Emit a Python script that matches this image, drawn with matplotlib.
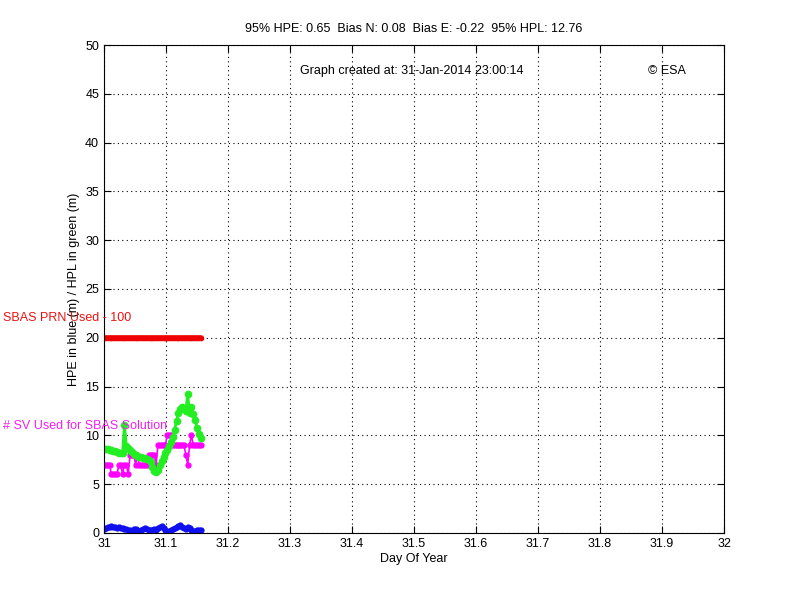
import matplotlib
matplotlib.use("Agg")
import matplotlib.pyplot as plt

days = [31.000, 31.003, 31.006, 31.009, 31.012, 31.015, 31.018, 31.021, 31.024, 31.027,
        31.030, 31.033, 31.036, 31.039, 31.042, 31.045, 31.048, 31.051, 31.054, 31.057,
        31.060, 31.063, 31.066, 31.069, 31.072, 31.075, 31.078, 31.081, 31.084, 31.087,
        31.090, 31.093, 31.096, 31.099, 31.102, 31.105, 31.108, 31.111, 31.114, 31.117,
        31.120, 31.123, 31.126, 31.129, 31.132, 31.135, 31.138, 31.141, 31.144, 31.147,
        31.150, 31.153, 31.156]

hpl = [8.6, 8.6, 8.6, 8.5, 8.5, 8.4, 8.4, 8.3, 8.2, 8.2,
       8.2, 11.1, 8.9, 8.7, 8.5, 8.3, 8.1, 8.0, 7.9, 7.8,
       7.8, 7.7, 7.7, 7.6, 7.5, 7.3, 6.8, 6.4, 6.2, 6.5,
       7.0, 7.4, 7.8, 8.2, 8.5, 8.9, 9.3, 9.8, 10.6, 11.5,
       12.3, 12.7, 12.9, 12.7, 12.5, 14.2, 12.3, 12.9, 12.2, 11.6,
       10.8, 10.1, 9.7]

nsv = [7, 7, 7, 7, 6, 6, 6, 6, 7, 7,
       6, 7, 7, 6, 8, 8, 8, 7, 8, 7,
       7, 7, 7, 7, 8, 8, 8, 8, 7, 9,
       9, 9, 9, 9, 10, 10, 10, 9, 9, 9,
       9, 9, 9, 9, 8, 7, 9, 10, 9, 9,
       9, 9, 9]

hpe = [0.4, 0.5, 0.6, 0.6, 0.7, 0.6, 0.6, 0.5, 0.6, 0.5,
       0.5, 0.4, 0.4, 0.3, 0.3, 0.2, 0.4, 0.4, 0.3, 0.2,
       0.3, 0.4, 0.5, 0.4, 0.3, 0.3, 0.3, 0.4, 0.3, 0.5,
       0.6, 0.7, 0.5, 0.3, 0.1, 0.2, 0.3, 0.4, 0.5, 0.6,
       0.7, 0.8, 0.6, 0.5, 0.4, 0.6, 0.5, 0.3, 0.2, 0.2,
       0.3, 0.3, 0.3]

sbas_prn_level = [20] * len(days)

x_ticks = [31, 31.1, 31.2, 31.3, 31.4, 31.5, 31.6, 31.7, 31.8, 31.9, 32]
x_tick_labels = ["31", "31.1", "31.2", "31.3", "31.4", "31.5", "31.6", "31.7", "31.8", "31.9", "32"]
y_ticks = [0, 5, 10, 15, 20, 25, 30, 35, 40, 45, 50]

plt.rcParams['font.family'] = ['Liberation Sans', 'DejaVu Sans']

fig = plt.figure(figsize=(8, 6), dpi=100)
ax = fig.add_axes([0.13, 0.1117, 0.775, 0.8133])

ax.plot(days, sbas_prn_level, color='#ee0000', lw=4, marker='o', ms=3, solid_capstyle='round')
ax.plot(days, nsv, color='#ff00ff', lw=1.2, marker='o', ms=3.5)
ax.plot(days, hpl, color='#22ee22', lw=2, marker='o', ms=4.5)
ax.plot(days, hpe, color='#1010ee', lw=2, marker='o', ms=3.5)

ax.set_xlim(31, 32)
ax.set_ylim(0, 50)
ax.set_xticks(x_ticks)
ax.set_xticklabels(x_tick_labels)
ax.set_yticks(y_ticks)
ax.tick_params(direction='in', length=5, labelsize=9, top=True, right=True,
               labeltop=False, labelright=False)
ax.grid(True, color='black', linestyle=(0, (1, 3)), linewidth=0.8)
for s in ax.spines.values():
    s.set_linewidth(0.8)

ax.set_title("95% HPE: 0.65  Bias N: 0.08  Bias E: -0.22  95% HPL: 12.76", fontsize=9, pad=9)
ax.set_xlabel("Day Of Year", fontsize=9, labelpad=2)
ax.set_ylabel("HPE in blue (m) / HPL in green (m)", fontsize=9, labelpad=4)

ax.text(31.316, 47.3, "Graph created at: 31-Jan-2014 23:00:14", fontsize=9, va='center', ha='left')
ax.text(31.877, 47.3, "\u00a9 ESA", fontsize=9, va='center', ha='left')
ax.text(30.837, 22.0, "SBAS PRN Used - 100", fontsize=9, color='#ee1111', va='center', ha='left', clip_on=False)
ax.text(30.837, 10.96, "# SV Used for SBAS Solution", fontsize=9, color='#ee22ee', va='center', ha='left', clip_on=False)

fig.savefig("out.png", dpi=100)
